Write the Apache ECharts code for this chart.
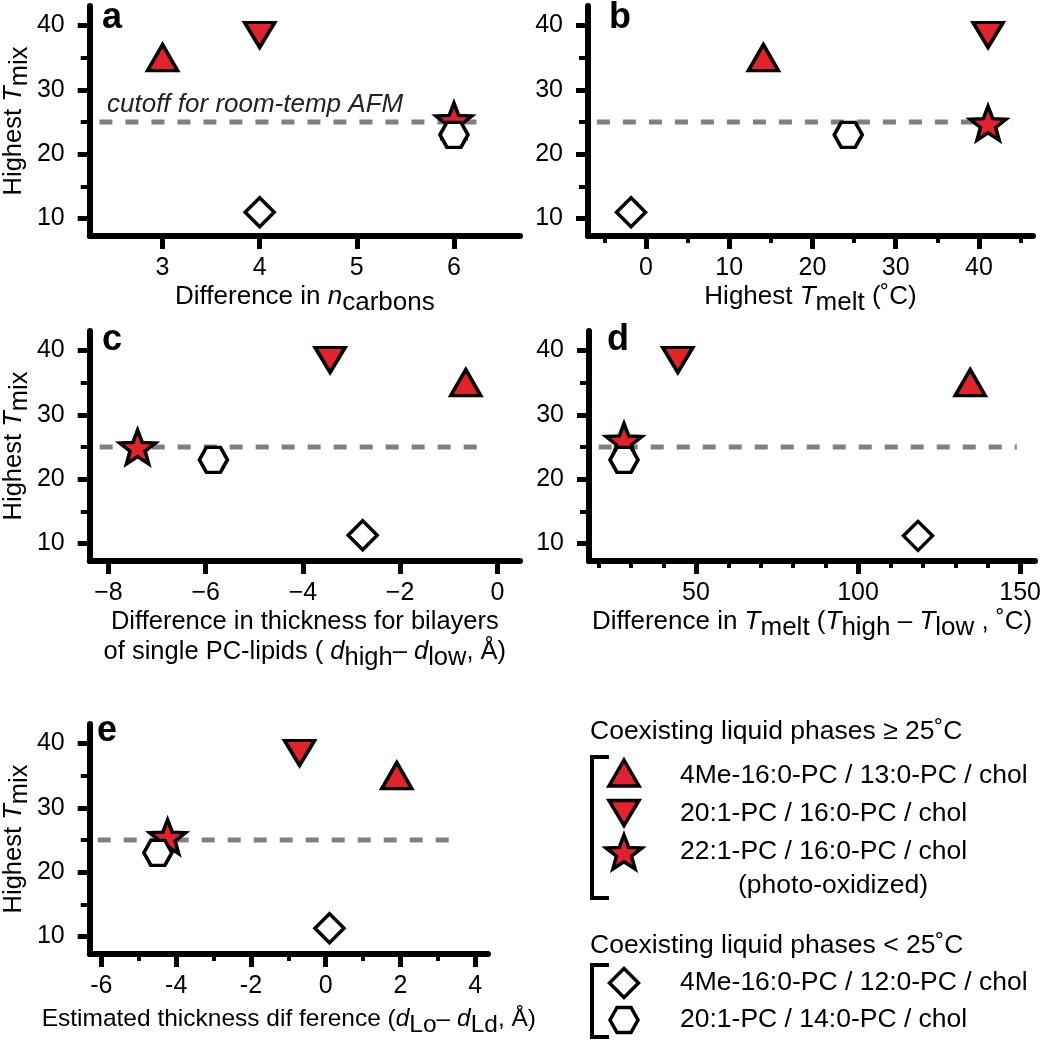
<!DOCTYPE html>
<html>
<head>
<meta charset="utf-8">
<script src="https://cdn.jsdelivr.net/npm/echarts@6/dist/echarts.min.js"></script>
<style>
  html, body { margin: 0; padding: 0; background: #fff; }
  #chart { width: 1050px; height: 1041px; }
</style>
</head>
<body>
<div id="chart"></div>
<script>
// mixtures, in the order of the legend
const mixNames = [
  '4Me-16:0-PC / 13:0-PC / chol',
  '20:1-PC / 16:0-PC / chol',
  '22:1-PC / 16:0-PC / chol (photo-oxidized)',
  '4Me-16:0-PC / 12:0-PC / chol',
  '20:1-PC / 14:0-PC / chol'
]

// panel a: difference in n carbons
const aX = [3, 4, 6, 4, 6]
const aY = [35, 38.5, 25.3, 11, 23]
// panel b: highest Tmelt
const bX = [14.1, 41.1, 41.1, -1.8, 24.3]
const bY = [35, 38.5, 24.8, 11, 23]
// panel c: thickness difference of single PC bilayers
const cX = [-0.65, -3.44, -7.4, -2.77, -5.84]
const cY = [35, 38.5, 25, 11.3, 23]
// panel d: difference in Tmelt
const dX = [134.6, 44.4, 27.8, 118.5, 27.8]
const dY = [35, 38.5, 26, 11.2, 23]
// panel e: estimated thickness difference
const eX = [1.9, -0.7, -4.23, 0.1, -4.49]
const eY = [35, 38.5, 25.5, 11.3, 23]

// cutoff for room-temp AFM
const cutoffT = 25
const aCut = [2.35, 6.35]
const bCut = [-5.9, 44.1]
const cCut = [-8.18, -0.18]
const dCut = [20, 149]
const eCut = [-6.1, 3.56]

// tick labels
const yTicks = [10, 20, 30, 40]
const yMinor = [15, 25, 35]
const aTicks = [3, 4, 5, 6]
const aMinor = []
const bTicks = [0, 10, 20, 30, 40]
const bMinor = [-5, 5, 15, 25, 35, 45]
const cTicks = [-8, -6, -4, -2, 0]
const cMinor = []
const dTicks = [50, 100, 150]
const dMinor = [20, 30, 40, 60, 70, 80, 90, 110, 120, 130, 140]
const eTicks = [-6, -4, -2, 0, 2, 4]
const eMinor = [-5, -3, -1, 1, 3]

const FONT = '"Liberation Sans", Arial, Helvetica, sans-serif'
const RED = '#e3232b'

// unit marker outlines, boxed in [-0.5, 0.5]
const starPts = (() => {
  const p = []
  for (let k = 0; k < 10; k++) {
    const a = (-90 + 36 * k) * Math.PI / 180
    const r = k % 2 ? 0.42 : 1
    p.push([r * Math.cos(a), r * Math.sin(a)])
  }
  const ys = p.map(v => v[1]), xs = p.map(v => v[0])
  const y0 = Math.min(...ys), y1 = Math.max(...ys), x0 = Math.min(...xs), x1 = Math.max(...xs)
  return p.map(v => [(v[0] - x0) / (x1 - x0) - 0.5, (v[1] - y0) / (y1 - y0) - 0.5])
})()
const shapes = [
  { pts: [[0, -0.5], [0.5, 0.5], [-0.5, 0.5]], size: [30, 26], fill: RED },
  { pts: [[-0.5, -0.5], [0.5, -0.5], [0, 0.5]], size: [30, 25], fill: RED },
  { pts: starPts, size: [36, 34], fill: RED },
  { pts: [[0, -0.5], [0.5, 0], [0, 0.5], [-0.5, 0]], size: [29, 29], fill: '#fff' },
  { pts: [[-0.5, 0], [-0.25, -0.5], [0.25, -0.5], [0.5, 0], [0.25, 0.5], [-0.25, 0.5]], size: [28, 25], fill: '#fff' }
]
const toPath = pts => 'path://' + pts.map((p, i) => (i ? 'L' : 'M') + p[0].toFixed(4) + ' ' + p[1].toFixed(4)).join(' ') + ' Z'

const richFor = size => ({
  i: { fontStyle: 'italic', fontSize: size, fontFamily: FONT, color: '#000' },
  s: { fontSize: size, fontFamily: FONT, color: '#000', padding: [12, 0, 0, 0] }
})
const yName = 'Highest {i|T}{s|mix}'

const panels = [
  { x: aX, y: aY, cut: aCut, ticks: aTicks, minor: aMinor, min: 2.25, max: 6.68,
    grid: { left: 83, top: 6, width: 437, height: 230 }, yName: yName,
    xName: 'Difference in {i|n}{s|carbons}', nameGap: 40, nameSize: 26 },
  { x: bX, y: bY, cut: bCut, ticks: bTicks, minor: bMinor, min: -6.97, max: 46.5,
    grid: { left: 588, top: 6, width: 445, height: 230 }, yName: '',
    xName: 'Highest {i|T}{s|melt} (˚C)', nameGap: 40, nameSize: 26 },
  { x: cX, y: cY, cut: cCut, ticks: cTicks, minor: cMinor, min: -8.385, max: 0.466,
    grid: { left: 83, top: 331, width: 437, height: 230 }, yName: yName, minus: true,
    xName: 'Difference in thickness for bilayers\nof single PC-lipids ( {i|d}{s|high}– {i|d}{s|low}, Å)', nameGap: 40, nameSize: 25.5 },
  { x: dX, y: dY, cut: dCut, ticks: dTicks, minor: dMinor, min: 17, max: 154.6,
    grid: { left: 589, top: 331, width: 446, height: 230 }, yName: '',
    xName: 'Difference in {i|T}{s|melt} ({i|T}{s|high} – {i|T}{s|low} , ˚C)', nameGap: 44, nameSize: 26 },
  { x: eX, y: eY, cut: eCut, ticks: eTicks, minor: eMinor, min: -6.313, max: 4.34,
    grid: { left: 80, top: 724, width: 408, height: 230 }, yName: yName,
    xName: 'Estimated thickness dif ference ({i|d}{s|Lo}– {i|d}{s|Ld}, Å)', nameGap: 50, nameSize: 24.5 }
]

const grids = [], xAxes = [], yAxes = [], series = []
panels.forEach((p, gi) => {
  grids.push(Object.assign({ containLabel: false }, p.grid))
  xAxes.push({
    type: 'value', gridIndex: gi, position: 'bottom', min: p.min, max: p.max,
    axisLine: { onZero: false, lineStyle: { color: '#000', width: 6 } },
    axisTick: { customValues: p.ticks, length: 13, lineStyle: { color: '#000', width: 5 } },
    axisLabel: {
      customValues: p.ticks, margin: 20, fontSize: 25, fontFamily: FONT, color: '#000',
      formatter: v => p.minus ? String(v).replace('-', '\u2212') : String(v)
    },
    splitLine: { show: false },
    name: p.xName, nameLocation: 'middle', nameGap: p.nameGap,
    nameTextStyle: { fontSize: p.nameSize, fontFamily: FONT, color: '#000', lineHeight: 30, rich: richFor(p.nameSize) }
  })
  xAxes.push({
    type: 'value', gridIndex: gi, position: 'bottom', min: p.min, max: p.max,
    axisLine: { show: false, onZero: false },
    axisTick: { show: p.minor.length > 0, customValues: p.minor, length: 7, lineStyle: { color: '#000', width: 4 } },
    axisLabel: { show: false }, splitLine: { show: false }
  })
  yAxes.push({
    type: 'value', gridIndex: gi, position: 'left', min: 7.3, max: 43,
    axisLine: { onZero: false, lineStyle: { color: '#000', width: 6 } },
    axisTick: { customValues: yTicks, length: 12, lineStyle: { color: '#000', width: 5 } },
    axisLabel: { customValues: yTicks, margin: 25, fontSize: 25, fontFamily: FONT, color: '#000' },
    splitLine: { show: false },
    name: p.yName, nameLocation: 'middle', nameGap: 54, nameRotate: 90,
    nameTextStyle: { fontSize: 25.5, fontFamily: FONT, color: '#000', rich: richFor(25.5) }
  })
  yAxes.push({
    type: 'value', gridIndex: gi, position: 'left', min: 7.3, max: 43,
    axisLine: { show: false, onZero: false },
    axisTick: { customValues: yMinor, length: 9, lineStyle: { color: '#000', width: 4 } },
    axisLabel: { show: false }, splitLine: { show: false }
  })
  series.push({
    type: 'line', xAxisIndex: 2 * gi, yAxisIndex: 2 * gi, z: 1, silent: true,
    data: p.cut.map(v => [v, cutoffT]), symbol: 'none',
    lineStyle: { color: '#808080', width: 5, type: [13, 13] }
  })
  shapes.forEach((s, k) => {
    series.push({
      type: 'scatter', name: mixNames[k], xAxisIndex: 2 * gi, yAxisIndex: 2 * gi,
      z: k === 4 ? 4 : 3, silent: true,
      symbol: toPath(s.pts), symbolSize: s.size,
      itemStyle: { color: s.fill, borderColor: '#000', borderWidth: 3.5, opacity: 1 },
      data: [[p.x[k], p.y[k]]]
    })
  })
})

// legend drawn by hand (brackets + markers)
const txt = (text, x, y, extra) => ({
  type: 'text', x: x, y: y, silent: true,
  style: Object.assign({ text: text, fontSize: 26.5, fontFamily: FONT, fill: '#000',
    align: 'left', verticalAlign: 'middle', textAlign: 'left', textVerticalAlign: 'middle' }, extra || {})
})
const marker = (k, cx, cy) => {
  const s = shapes[k]
  return {
    type: 'polygon', silent: true,
    shape: { points: s.pts.map(q => [cx + q[0] * s.size[0], cy + q[1] * s.size[1]]) },
    style: { fill: s.fill, stroke: '#000', lineWidth: 3.5 }
  }
}
const bracket = (y0, y1) => ({
  type: 'polyline', silent: true,
  shape: { points: [[609, y0], [592, y0], [592, y1], [609, y1]] },
  style: { stroke: '#000', lineWidth: 4, fill: null }
})

const graphic = [
  txt('a', 102, 18, { fontSize: 36, fontWeight: 'bold' }),
  txt('b', 609, 18, { fontSize: 36, fontWeight: 'bold' }),
  txt('c', 102, 340, { fontSize: 36, fontWeight: 'bold' }),
  txt('d', 607, 340, { fontSize: 36, fontWeight: 'bold' }),
  txt('e', 97, 731, { fontSize: 36, fontWeight: 'bold' }),
  txt('cutoff for room-temp AFM', 107, 105, { fontSize: 26, fontStyle: 'italic', fill: '#222' }),
  txt('Coexisting liquid phases ≥ 25˚C', 590, 732),
  bracket(757, 898),
  marker(0, 624, 773), txt('4Me-16:0-PC / 13:0-PC / chol', 680, 776),
  marker(1, 624, 813), txt('20:1-PC / 16:0-PC / chol', 680, 814),
  marker(2, 624, 852), txt('22:1-PC / 16:0-PC / chol', 680, 852),
  txt('(photo-oxidized)', 738, 886),
  txt('Coexisting liquid phases < 25˚C', 590, 946),
  bracket(965, 1037),
  marker(3, 624, 983), txt('4Me-16:0-PC / 12:0-PC / chol', 680, 983),
  marker(4, 624, 1020), txt('20:1-PC / 14:0-PC / chol', 680, 1020)
]

const chart = echarts.init(document.getElementById('chart'))
chart.setOption({
  animation: false,
  backgroundColor: '#fff',
  textStyle: { fontFamily: FONT },
  grid: grids,
  xAxis: xAxes,
  yAxis: yAxes,
  series: series,
  graphic: graphic
})
</script>
</body>
</html>
